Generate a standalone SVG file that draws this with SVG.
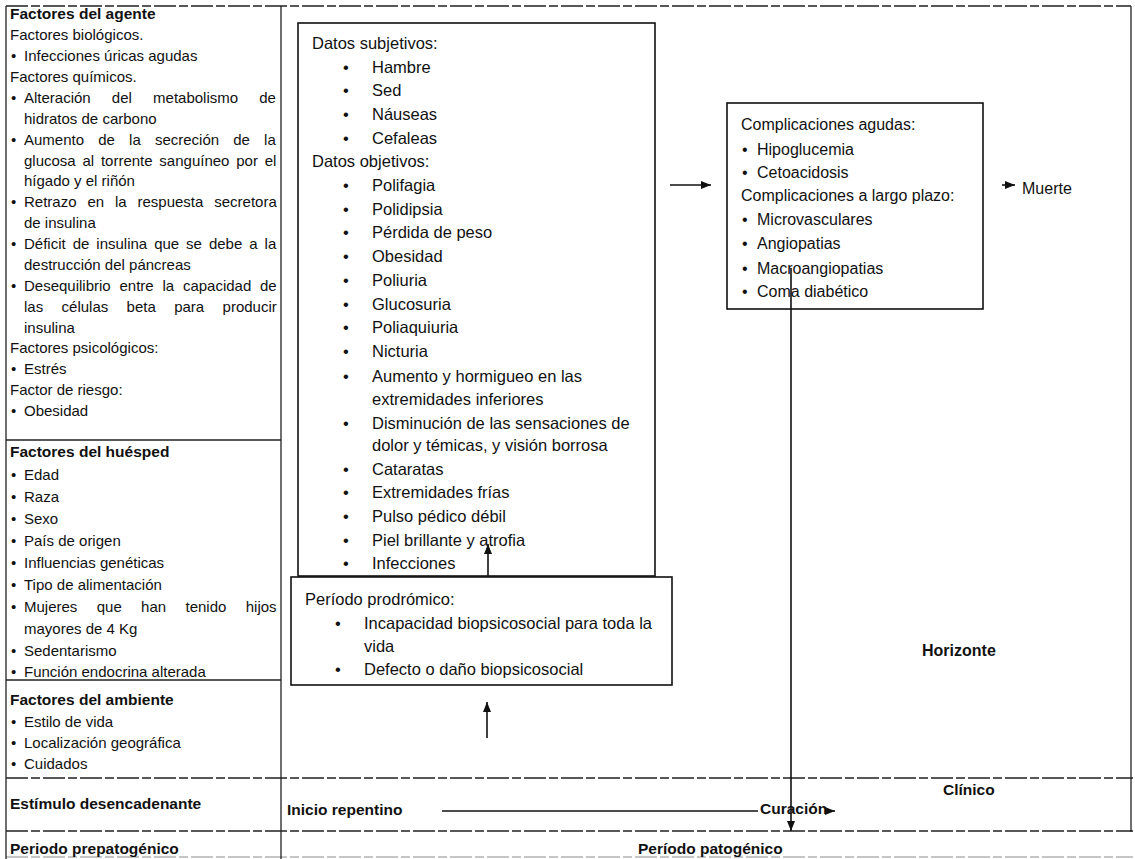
<svg xmlns="http://www.w3.org/2000/svg" width="1135" height="859" viewBox="0 0 1135 859">
<style>
text{font-family:"Liberation Sans",Arial,sans-serif;fill:#111}
.l{font-size:15px}
.hb{font-size:15.5px;font-weight:bold}
.c{font-size:16.5px}
.r{font-size:16px}
.box{fill:#fff;stroke:#111;stroke-width:1.6}
.g{stroke:#222;stroke-width:1.3;fill:none}
.d{stroke:#222;stroke-width:1.3;fill:none;stroke-dasharray:22 3 9 3}
.a{stroke:#111;stroke-width:1.6;fill:none}
</style>
<defs>
<marker id="ah" viewBox="0 0 10 8" refX="10" refY="4" markerWidth="10" markerHeight="8" markerUnits="userSpaceOnUse" orient="auto">
<path d="M0,0 L10,4 L0,8 z" fill="#111"/>
</marker>
</defs>
<rect width="1135" height="859" fill="#fff"/>
<g id="frame">
<path class="d" d="M6 6 H1131"/>
<path class="g" d="M6 6 V859"/>
<path class="g" d="M281 6 V859"/>
<path class="g" d="M1131 6 V832"/>
<path class="g" d="M6 440 H281"/>
<path class="g" d="M6 680 H281"/>
<path class="d" d="M6 778 H1133"/>
<path class="d" d="M6 831 H1133"/>
<path class="d" d="M6 857 H1133" stroke-opacity="0.35"/>
</g>
<g id="agente">
<text class="hb" x="10" y="19">Factores del agente</text>
<text class="l" x="10" y="40">Factores biológicos.</text>
<text class="l" x="11" y="61">•</text><text class="l" x="24" y="61">Infecciones úricas agudas</text>
<text class="l" x="10" y="82">Factores químicos.</text>
<text class="l" x="11" y="103">•</text><text class="l" x="24" y="103" style="word-spacing:17px">Alteración del metabolismo de</text>
<text class="l" x="24" y="124">hidratos de carbono</text>
<text class="l" x="11" y="145">•</text><text class="l" x="24" y="145" style="word-spacing:10px">Aumento de la secreción de la</text>
<text class="l" x="24" y="166" style="word-spacing:2.6px">glucosa al torrente sanguíneo por el</text>
<text class="l" x="24" y="186">hígado y el riñón</text>
<text class="l" x="11" y="207">•</text><text class="l" x="24" y="207" style="word-spacing:6.7px">Retrazo en la respuesta secretora</text>
<text class="l" x="24" y="228">de insulina</text>
<text class="l" x="11" y="249">•</text><text class="l" x="24" y="249" style="word-spacing:2.8px">Déficit de insulina que se debe a la</text>
<text class="l" x="24" y="270">destrucción del páncreas</text>
<text class="l" x="11" y="291">•</text><text class="l" x="24" y="291" style="word-spacing:4.6px">Desequilibrio entre la capacidad de</text>
<text class="l" x="24" y="312" style="word-spacing:14.2px">las células beta para producir</text>
<text class="l" x="24" y="333">insulina</text>
<text class="l" x="10" y="353">Factores psicológicos:</text>
<text class="l" x="11" y="374">•</text><text class="l" x="24" y="374">Estrés</text>
<text class="l" x="10" y="395">Factor de riesgo:</text>
<text class="l" x="11" y="416">•</text><text class="l" x="24" y="416">Obesidad</text>
</g>
<g id="huesped">
<text class="hb" x="10" y="457">Factores del huésped</text>
<text class="l" x="11" y="480">•</text><text class="l" x="24" y="480">Edad</text>
<text class="l" x="11" y="502">•</text><text class="l" x="24" y="502">Raza</text>
<text class="l" x="11" y="524">•</text><text class="l" x="24" y="524">Sexo</text>
<text class="l" x="11" y="546">•</text><text class="l" x="24" y="546">País de origen</text>
<text class="l" x="11" y="568">•</text><text class="l" x="24" y="568">Influencias genéticas</text>
<text class="l" x="11" y="590">•</text><text class="l" x="24" y="590">Tipo de alimentación</text>
<text class="l" x="11" y="612">•</text><text class="l" x="24" y="612" style="word-spacing:15.2px">Mujeres que han tenido hijos</text>
<text class="l" x="24" y="634">mayores de 4 Kg</text>
<text class="l" x="11" y="656">•</text><text class="l" x="24" y="656">Sedentarismo</text>
<text class="l" x="11" y="677">•</text><text class="l" x="24" y="677">Función endocrina alterada</text>
</g>
<g id="ambiente">
<text class="hb" x="10" y="705">Factores del ambiente</text>
<text class="l" x="11" y="727">•</text><text class="l" x="24" y="727">Estilo de vida</text>
<text class="l" x="11" y="748">•</text><text class="l" x="24" y="748">Localización geográfica</text>
<text class="l" x="11" y="769">•</text><text class="l" x="24" y="769">Cuidados</text>
</g>
<g id="estimulo">
<text class="hb" x="10" y="809">Estímulo desencadenante</text>
</g>
<g id="prepatogenico">
<text class="hb" x="10" y="854">Periodo prepatogénico</text>
</g>
<g id="datos">
<rect class="box" x="298" y="23" width="357" height="553"/>
<text class="c" x="312" y="49">Datos subjetivos:</text>
<text class="c" x="343" y="73">•</text><text class="c" x="372" y="73">Hambre</text>
<text class="c" x="343" y="96">•</text><text class="c" x="372" y="96">Sed</text>
<text class="c" x="343" y="120">•</text><text class="c" x="372" y="120">Náuseas</text>
<text class="c" x="343" y="144">•</text><text class="c" x="372" y="144">Cefaleas</text>
<text class="c" x="312" y="167">Datos objetivos:</text>
<text class="c" x="343" y="191">•</text><text class="c" x="372" y="191">Polifagia</text>
<text class="c" x="343" y="215">•</text><text class="c" x="372" y="215">Polidipsia</text>
<text class="c" x="343" y="238">•</text><text class="c" x="372" y="238">Pérdida de peso</text>
<text class="c" x="343" y="262">•</text><text class="c" x="372" y="262">Obesidad</text>
<text class="c" x="343" y="286">•</text><text class="c" x="372" y="286">Poliuria</text>
<text class="c" x="343" y="310">•</text><text class="c" x="372" y="310">Glucosuria</text>
<text class="c" x="343" y="333">•</text><text class="c" x="372" y="333">Poliaquiuria</text>
<text class="c" x="343" y="357">•</text><text class="c" x="372" y="357">Nicturia</text>
<text class="c" x="343" y="382">•</text><text class="c" x="372" y="382">Aumento y hormigueo en las</text>
<text class="c" x="372" y="405">extremidades inferiores</text>
<text class="c" x="343" y="429">•</text><text class="c" x="372" y="429">Disminución de las sensaciones de</text>
<text class="c" x="372" y="451">dolor y témicas, y visión borrosa</text>
<text class="c" x="343" y="475">•</text><text class="c" x="372" y="475">Cataratas</text>
<text class="c" x="343" y="498">•</text><text class="c" x="372" y="498">Extremidades frías</text>
<text class="c" x="343" y="522">•</text><text class="c" x="372" y="522">Pulso pédico débil</text>
<text class="c" x="343" y="546">•</text><text class="c" x="372" y="546">Piel brillante y atrofia</text>
<text class="c" x="343" y="569">•</text><text class="c" x="372" y="569">Infecciones</text>
</g>
<g id="prodromico">
<rect class="box" x="291" y="577" width="381" height="108"/>
<text class="c" x="305" y="605">Período prodrómico:</text>
<text class="c" x="335" y="629">•</text><text class="c" x="364" y="629">Incapacidad biopsicosocial para toda la</text>
<text class="c" x="364" y="652">vida</text>
<text class="c" x="335" y="675">•</text><text class="c" x="364" y="675">Defecto o daño biopsicosocial</text>
</g>
<g id="complicaciones">
<rect class="box" x="727" y="103" width="256" height="206"/>
<text class="r" x="741" y="130">Complicaciones agudas:</text>
<text class="r" x="742" y="155">•</text><text class="r" x="757" y="155">Hipoglucemia</text>
<text class="r" x="742" y="178">•</text><text class="r" x="757" y="178">Cetoacidosis</text>
<text class="r" x="741" y="201">Complicaciones a largo plazo:</text>
<text class="r" x="742" y="225">•</text><text class="r" x="757" y="225">Microvasculares</text>
<text class="r" x="742" y="249">•</text><text class="r" x="757" y="249">Angiopatias</text>
<text class="r" x="742" y="274">•</text><text class="r" x="757" y="274">Macroangiopatias</text>
<text class="r" x="742" y="297">•</text><text class="r" x="757" y="297">Coma diabético</text>
</g>
<g id="muerte">
<text class="r" x="1022" y="194">Muerte</text>
</g>
<g id="horizonte">
<text class="hb" x="922" y="656" style="font-size:16px">Horizonte</text>
</g>
<g id="clinico">
<text class="hb" x="943" y="795">Clínico</text>
</g>
<g id="inicio">
<text class="hb" x="287" y="815">Inicio repentino</text>
</g>
<g id="curacion">
<text class="hb" x="760" y="814">Curación</text>
</g>
<g id="patogenico">
<text class="hb" x="638" y="854">Período patogénico</text>
</g>
<g id="connectors">
<path class="a" d="M670 185 H711" marker-end="url(#ah)"/>
<path class="a" d="M1002 185 H1015" marker-end="url(#ah)"/>
<path class="a" d="M488 576 V544" marker-end="url(#ah)"/>
<path class="a" d="M487 738 V702" marker-end="url(#ah)"/>
<path class="a" d="M791 268 V831" marker-end="url(#ah)"/>
<path class="a" d="M442 811 H758"/>
<path class="a" d="M826 811 H835" marker-end="url(#ah)"/>
</g>
</svg>
